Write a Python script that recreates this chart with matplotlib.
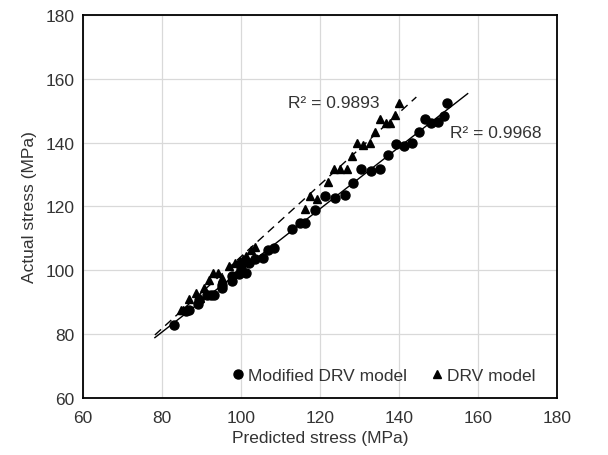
import numpy as np
import matplotlib
matplotlib.use("Agg")
import matplotlib.pyplot as plt

plt.rcParams['font.family'] = ['Liberation Sans', 'DejaVu Sans']

# Modified DRV model: predicted vs actual stress (MPa)
mod_pred = [83.1, 86.2, 86.8, 89.0, 89.4, 91.3, 92.4, 93.1, 95.2, 95.2,
            97.8, 97.8, 99.4, 100.1, 101.3, 99.9, 102.0, 103.6, 105.5, 106.9,
            108.3, 112.8, 114.9, 116.3, 118.8, 121.2, 123.7, 126.4, 128.4, 130.5,
            132.9, 135.2, 137.3, 139.2, 141.2, 143.2, 145.0, 146.6, 148.2, 149.9,
            151.3, 152.2]
mod_act = [83.0, 87.2, 87.7, 89.3, 90.8, 92.4, 92.4, 92.4, 94.5, 95.5,
           96.6, 98.1, 99.0, 100.4, 99.2, 102.3, 102.3, 103.4, 103.9, 106.5,
           107.0, 112.8, 114.9, 114.9, 119.0, 123.2, 122.7, 123.5, 127.4, 131.6,
           131.1, 131.6, 136.0, 139.7, 139.1, 139.9, 143.3, 147.3, 146.0, 146.4,
           148.5, 152.5]

# DRV model
drv_pred = [84.8, 85.4, 86.8, 88.7, 89.6, 90.6, 91.8, 93.0, 94.1, 95.2,
            96.9, 98.5, 99.7, 100.4, 101.3, 102.5, 103.5, 116.3, 117.5, 119.3,
            122.1, 123.6, 125.1, 126.8, 128.0, 129.3, 130.9, 132.6, 134.0, 135.2,
            136.6, 137.8, 139.0, 140.1]
drv_act = [87.7, 87.7, 91.0, 92.9, 91.3, 94.5, 97.1, 99.2, 99.2, 97.6,
           101.3, 102.3, 102.8, 103.4, 104.4, 106.5, 107.3, 119.2, 123.2, 122.5,
           127.6, 131.6, 131.6, 131.8, 135.8, 139.9, 139.4, 139.9, 143.3, 147.3,
           146.2, 146.0, 148.8, 152.5]

# trendline extents (Excel forecast backward/forward)
mod_trend_x = [78.2, 157.4]
drv_trend_x = [78.2, 144.4]

fig = plt.figure(figsize=(6.08, 4.56), dpi=100)
ax = fig.add_axes([0.1365, 0.125, 0.7795, 0.84])

text_col = '#333333'
fs = 12.5

ax.plot(mod_pred, mod_act, 'o', color='black', markersize=6.5, label='Modified DRV model', zorder=3)
ax.plot(drv_pred, drv_act, '^', color='black', markersize=5.5, label='DRV model', zorder=3)

# linear trendlines
k1, b1 = np.polyfit(mod_pred, mod_act, 1)
xs = np.array(mod_trend_x)
ax.plot(xs, k1 * xs + b1, '-', color='black', linewidth=1.0, zorder=2)
k2, b2 = np.polyfit(drv_pred, drv_act, 1)
xs = np.array(drv_trend_x)
ax.plot(xs, k2 * xs + b2, '--', color='black', linewidth=1.0, dashes=(6, 4), zorder=2)

ax.text(112, 152.5, 'R² = 0.9893', fontsize=fs, color=text_col, va='center', ha='left')
ax.text(152.9, 143.1, 'R² = 0.9968', fontsize=fs, color=text_col, va='center', ha='left')

ax.set_xlim(60, 180)
ax.set_ylim(60, 180)
ax.set_xticks(range(60, 181, 20))
ax.set_yticks(range(60, 181, 20))
ax.grid(True, color='#d9d9d9', linewidth=0.9)
ax.set_axisbelow(True)
for s in ax.spines.values():
    s.set_color('black')
    s.set_linewidth(1.3)
ax.tick_params(length=0, labelsize=fs, labelcolor=text_col)
ax.tick_params(axis='x', pad=9)
ax.tick_params(axis='y', pad=6)

ax.set_xlabel('Predicted stress (MPa)', fontsize=fs, color=text_col, labelpad=3)
ax.set_ylabel('Actual stress (MPa)', fontsize=fs, color=text_col, labelpad=6)

leg = ax.legend(loc='center right', bbox_to_anchor=(0.955, 0.059), ncol=2, frameon=False,
                handletextpad=0.1, columnspacing=1.2, borderpad=0, borderaxespad=0,
                handlelength=1.0, fontsize=fs)
for t in leg.get_texts():
    t.set_color(text_col)

fig.savefig('out.png', dpi=100)
